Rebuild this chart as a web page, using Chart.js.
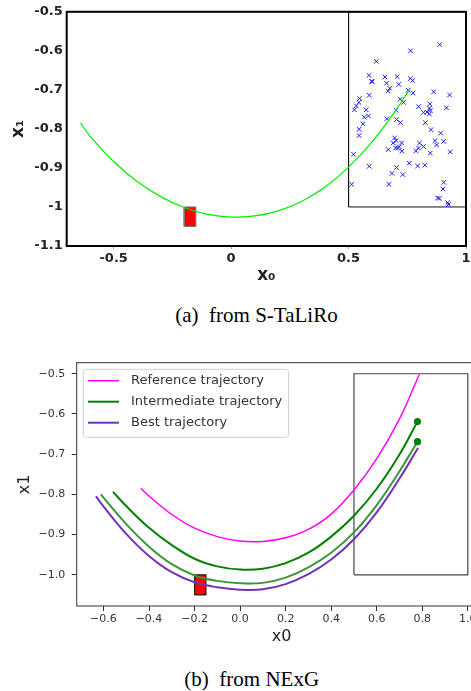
<!DOCTYPE html>
<html><head><meta charset="utf-8">
<script src="https://cdn.jsdelivr.net/npm/chart.js@4.4.1/dist/chart.umd.min.js"></script>
<style>
html,body{margin:0;padding:0;background:#fff;width:471px;height:691px;overflow:hidden;position:relative}
canvas{position:absolute;left:0}
#c1{top:0}
#c2{top:340px}
.cap{position:absolute;font-family:"Liberation Serif","Times New Roman",serif;font-size:21px;color:#000;white-space:pre;line-height:1;transform:translate(-50%,-50%)}
</style></head><body>
<canvas id="c1" width="520" height="300"></canvas>
<canvas id="c2" width="520" height="310"></canvas>
<div class="cap" style="left:256.5px;top:315px">(a)  from S-TaLiRo</div>
<div class="cap" style="left:251.7px;top:679px">(b)  from NExG</div>
<script>
// ---------- (a) S-TaLiRo data ----------
const taliroXTicks = [-0.5, 0, 0.5, 1];
const taliroYTicks = [-1.1, -1, -0.9, -0.8, -0.7, -0.6, -0.5];
const goalX = [0.5, 1.0];
const goalY = [-1.0, -0.5];
const initX = [-0.2, -0.15];
const initY = [-1.05, -1.0];
const taliroX = [-0.64, -0.6, -0.5, -0.4, -0.3, -0.2, -0.1, 0.0, 0.1, 0.2, 0.3, 0.4, 0.5, 0.6, 0.7, 0.758];
const taliroY = [-0.786, -0.819, -0.8835, -0.935, -0.9735, -1.0015, -1.019, -1.026, -1.023, -1.010, -0.986, -0.949, -0.898, -0.833, -0.753, -0.700];
const sampleX = [0.888,0.764,0.618,0.587,0.598,0.601,0.655,0.662,0.707,0.714,0.763,0.773,0.675,0.669,0.754,0.775,0.862,0.930,0.588,0.547,
0.544,0.533,0.525,0.575,0.720,0.734,0.702,0.798,0.846,0.845,0.819,0.834,0.844,0.848,0.917,0.567,0.585,0.663,0.704,0.721,
0.827,0.561,0.545,0.545,0.851,0.892,0.696,0.703,0.690,0.726,0.716,0.700,0.709,0.669,0.727,0.802,0.819,0.798,0.787,0.868,
0.875,0.905,0.848,0.933,0.521,0.588,0.758,0.794,0.825,0.704,0.685,0.731,0.513,0.672,0.905,0.902,0.879,0.886,0.922,0.925];
const sampleY = [-0.584,-0.600,-0.627,-0.663,-0.678,-0.679,-0.667,-0.683,-0.666,-0.686,-0.671,-0.676,-0.696,-0.703,-0.701,-0.708,-0.705,-0.713,-0.714,-0.722,
-0.732,-0.741,-0.751,-0.751,-0.724,-0.732,-0.752,-0.743,-0.736,-0.747,-0.758,-0.757,-0.762,-0.753,-0.746,-0.770,-0.767,-0.774,-0.776,-0.784,
-0.784,-0.787,-0.801,-0.817,-0.802,-0.811,-0.823,-0.830,-0.836,-0.836,-0.846,-0.849,-0.849,-0.853,-0.857,-0.836,-0.845,-0.849,-0.856,-0.830,
-0.841,-0.832,-0.862,-0.859,-0.865,-0.896,-0.888,-0.895,-0.893,-0.899,-0.914,-0.917,-0.942,-0.942,-0.937,-0.954,-0.977,-0.978,-0.989,-0.994];

// ---------- (b) NExG data ----------
const nexgXTicks = [-0.6, -0.4, -0.2, 0.0, 0.2, 0.4, 0.6, 0.8, 1.0];
const nexgYTicks = [-1.0, -0.9, -0.8, -0.7, -0.6, -0.5];
const refX = [-0.434, -0.4, -0.3, -0.2, -0.1, 0.0, 0.1, 0.2, 0.3, 0.4, 0.5, 0.6, 0.7, 0.786];
const refY = [-0.786, -0.804, -0.850, -0.884, -0.905, -0.916, -0.917, -0.908, -0.887, -0.849, -0.789, -0.711, -0.612, -0.503];
const inter1X = [-0.556, -0.5, -0.4, -0.3, -0.2, -0.1, 0.0, 0.1, 0.2, 0.3, 0.4, 0.5, 0.6, 0.7, 0.779];
const inter1Y = [-0.795, -0.829, -0.883, -0.926, -0.960, -0.979, -0.987, -0.985, -0.971, -0.945, -0.905, -0.853, -0.786, -0.701, -0.619];
const inter2X = [-0.609, -0.6, -0.5, -0.4, -0.3, -0.2, -0.1, 0.0, 0.1, 0.2, 0.3, 0.4, 0.5, 0.6, 0.7, 0.779];
const inter2Y = [-0.801, -0.808, -0.874, -0.930, -0.9735, -1.0015, -1.015, -1.021, -1.020, -1.007, -0.9815, -0.945, -0.8945, -0.8265, -0.7425, -0.669];
const bestX = [-0.631, -0.6, -0.5, -0.4, -0.3, -0.2, -0.1, 0.0, 0.1, 0.2, 0.3, 0.4, 0.5, 0.6, 0.7, 0.78];
const bestY = [-0.806, -0.830, -0.898, -0.953, -0.9935, -1.0185, -1.031, -1.037, -1.036, -1.023, -0.9985, -0.962, -0.9115, -0.8445, -0.7605, -0.686];

// ---------- helpers ----------
const zip = (xs, ys) => xs.map((x, i) => ({x, y: ys[i]}));
const rectPoints = (xs, ys) => [
  {x: xs[0], y: ys[0]}, {x: xs[1], y: ys[0]}, {x: xs[1], y: ys[1]}, {x: xs[0], y: ys[1]}, {x: xs[0], y: ys[0]}
];
const lastPoint = (xs, ys) => ({x: xs[xs.length - 1], y: ys[ys.length - 1]});
const FAM = "'DejaVu Sans', sans-serif";

const framePlugin = {
  id: 'frame',
  afterDraw(chart, args, opts) {
    const {ctx, chartArea: a} = chart;
    ctx.save();
    ctx.strokeStyle = opts.color; ctx.lineWidth = opts.width;
    ctx.strokeRect(a.left, a.top, a.right - a.left, a.bottom - a.top);
    ctx.restore();
  }
};

const boxLegend = {
  id: 'boxLegend',
  afterDatasetsDraw(chart, args, opts) {
    if (!opts.show) return;
    const {ctx, chartArea: a} = chart;
    const items = chart.data.datasets.filter(d => d.inLegend);
    ctx.save();
    ctx.font = '13px ' + FAM;
    const tw = Math.max(...items.map(d => ctx.measureText(d.label).width));
    const x0 = a.left + 6.6, y0 = a.top + 6.6, w = 47.7 + tw + 6.3, h = 68, r = 3;
    ctx.beginPath();
    ctx.moveTo(x0 + r, y0); ctx.lineTo(x0 + w - r, y0); ctx.arcTo(x0 + w, y0, x0 + w, y0 + r, r);
    ctx.lineTo(x0 + w, y0 + h - r); ctx.arcTo(x0 + w, y0 + h, x0 + w - r, y0 + h, r);
    ctx.lineTo(x0 + r, y0 + h); ctx.arcTo(x0, y0 + h, x0, y0 + h - r, r);
    ctx.lineTo(x0, y0 + r); ctx.arcTo(x0, y0, x0 + r, y0, r); ctx.closePath();
    ctx.fillStyle = 'rgba(255,255,255,0.85)'; ctx.fill();
    ctx.strokeStyle = '#d0d0d0'; ctx.lineWidth = 1; ctx.stroke();
    items.forEach((d, i) => {
      const cy = y0 + 11.4 + i * 21;
      ctx.beginPath(); ctx.moveTo(x0 + 4.7, cy); ctx.lineTo(x0 + 35.7, cy);
      ctx.strokeStyle = d.borderColor; ctx.lineWidth = d.borderWidth; ctx.stroke();
      ctx.fillStyle = '#333'; ctx.textBaseline = 'middle'; ctx.textAlign = 'left';
      ctx.fillText(d.label, x0 + 47.7, cy);
    });
    ctx.restore();
  }
};

const curve = {showLine: true, pointRadius: 0, tension: 0.4, cubicInterpolationMode: 'default', fill: false, borderCapStyle: 'round', borderJoinStyle: 'round'};

// ---------- chart (a) ----------
new Chart(document.getElementById('c1'), {
  type: 'scatter',
  data: {
    datasets: [
      {label: 'Samples', data: zip(sampleX, sampleY), showLine: false, pointStyle: 'crossRot', pointRadius: 3.2,
       borderColor: '#1a1aff', backgroundColor: '#1a1aff', borderWidth: 1, order: 1},
      Object.assign({label: 'Trajectory', data: zip(taliroX, taliroY), borderColor: '#00ee00', borderWidth: 1.2, order: 0}, curve),
      {label: 'Initial set', data: rectPoints(initX, initY), showLine: true, borderColor: '#777', borderWidth: 1,
       backgroundColor: '#ff0000', fill: 'shape', pointRadius: 0, tension: 0, order: 2},
      {label: 'Goal', data: rectPoints(goalX, goalY), showLine: true, borderColor: '#111', borderWidth: 1,
       pointRadius: 0, tension: 0, fill: false, order: 3}
    ]
  },
  options: {
    responsive: false, devicePixelRatio: 1, animation: false,
    layout: {padding: {left: 0, right: 54, top: 9, bottom: 0}},
    plugins: {legend: {display: false}, tooltip: {enabled: false}, frame: {color: '#000', width: 2}},
    scales: {
      x: {type: 'linear', min: -0.7, max: 1.0,
        afterBuildTicks: s => { s.ticks = taliroXTicks.map(v => ({value: v})); },
        afterFit: s => { s.height = 54; },
        grid: {display: true, drawOnChartArea: false, drawTicks: true, tickLength: 3, color: '#999'},
        border: {display: false},
        ticks: {font: {family: FAM, size: 13, weight: 'bold'}, color: '#222', padding: 2, maxRotation: 0, autoSkip: false,
          callback: v => String(v)},
        title: {display: true, text: 'x₀', font: {family: FAM, size: 17, weight: 'bold'}, color: '#222', padding: {top: 0, bottom: 14}}
      },
      y: {type: 'linear', min: -1.1, max: -0.5,
        afterBuildTicks: s => { s.ticks = taliroYTicks.map(v => ({value: v})); },
        afterFit: s => { s.width = 66.7; },
        grid: {display: true, drawOnChartArea: false, drawTicks: false},
        border: {display: false},
        ticks: {font: {family: FAM, size: 13, weight: 'bold'}, color: '#222', padding: 4, autoSkip: false,
          callback: v => String(v)},
        title: {display: true, text: 'x₁', font: {family: FAM, size: 17, weight: 'bold'}, color: '#222', padding: {top: 8, bottom: 0}}
      }
    }
  },
  plugins: [framePlugin]
});

// ---------- chart (b) ----------
new Chart(document.getElementById('c2'), {
  type: 'scatter',
  data: {
    datasets: [
      {label: 'End points', data: [lastPoint(inter1X, inter1Y), lastPoint(inter2X, inter2Y)], showLine: false,
       pointRadius: 3.6, backgroundColor: '#008000', borderColor: '#008000', borderWidth: 0, order: 0},
      Object.assign({label: 'Reference trajectory', inLegend: true, data: zip(refX, refY), borderColor: '#ff00ff', borderWidth: 1.5, order: 1}, curve),
      Object.assign({label: 'Intermediate trajectory', inLegend: true, data: zip(inter1X, inter1Y), borderColor: '#008000', borderWidth: 2, order: 1}, curve),
      Object.assign({label: 'Intermediate trajectory 2', data: zip(inter2X, inter2Y), borderColor: '#3a973a', borderWidth: 2, order: 1}, curve),
      Object.assign({label: 'Best trajectory', inLegend: true, data: zip(bestX, bestY), borderColor: '#7232b8', borderWidth: 2, order: 1}, curve),
      {label: 'Initial set', data: rectPoints(initX, initY), showLine: true, borderColor: '#222', borderWidth: 1.2,
       backgroundColor: '#ff0000', fill: 'shape', pointRadius: 0, tension: 0, order: 2},
      {label: 'Goal', data: rectPoints(goalX, goalY), showLine: true, borderColor: '#444', borderWidth: 1.2,
       pointRadius: 0, tension: 0, fill: false, order: 3}
    ]
  },
  options: {
    responsive: false, devicePixelRatio: 1, animation: false,
    layout: {padding: {left: 0, right: 33.4, top: 22.7, bottom: 0}},
    plugins: {legend: {display: false}, tooltip: {enabled: false}, frame: {color: '#333', width: 1}, boxLegend: {show: true}},
    scales: {
      x: {type: 'linear', min: -0.7175, max: 1.0825,
        afterBuildTicks: s => { s.ticks = nexgXTicks.map(v => ({value: v})); },
        afterFit: s => { s.height = 44; },
        grid: {display: true, drawOnChartArea: false, drawTicks: true, tickLength: 5, color: '#333'},
        border: {display: false},
        ticks: {font: {family: FAM, size: 11}, color: '#333', padding: 2, maxRotation: 0, autoSkip: false,
          callback: v => (v < 0 ? '\u2212' : '') + Math.abs(v).toFixed(1)},
        title: {display: true, text: 'x0', font: {family: FAM, size: 16}, color: '#222', padding: {top: 0, bottom: 3.7}}
      },
      y: {type: 'linear', min: -1.0775, max: -0.4725,
        afterBuildTicks: s => { s.ticks = nexgYTicks.map(v => ({value: v})); },
        afterFit: s => { s.width = 76.7; },
        grid: {display: true, drawOnChartArea: false, drawTicks: true, tickLength: 5, color: '#333'},
        border: {display: false},
        ticks: {font: {family: FAM, size: 11}, color: '#333', padding: 6.5, autoSkip: false,
          callback: v => (v < 0 ? '\u2212' : '') + Math.abs(v).toFixed(1)},
        title: {display: true, text: 'x1', font: {family: FAM, size: 16}, color: '#222', padding: {top: 14.9, bottom: 0}}
      }
    }
  },
  plugins: [framePlugin, boxLegend]
});
</script>
</body></html>
